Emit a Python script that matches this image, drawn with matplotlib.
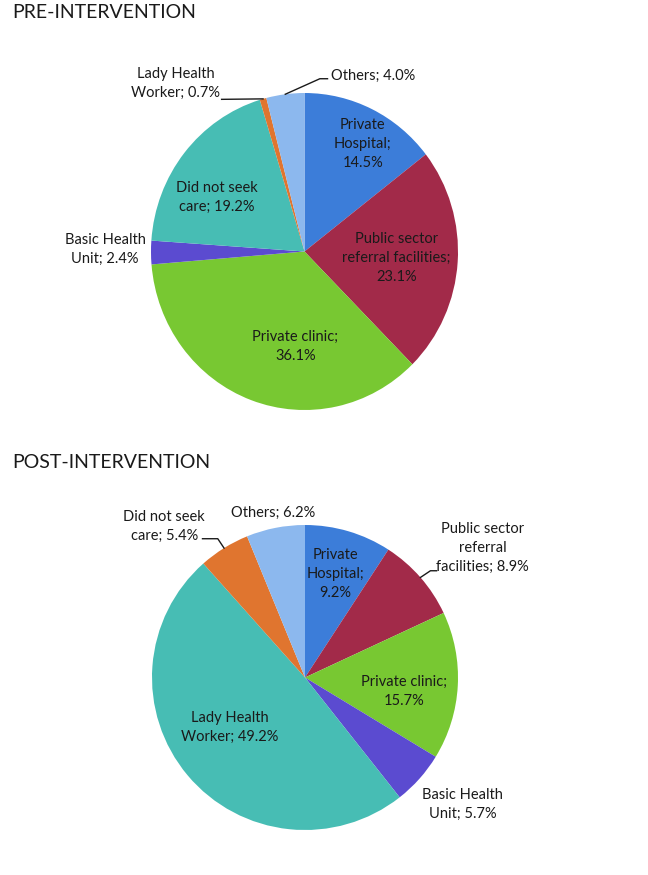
import numpy as np
import matplotlib
matplotlib.use("Agg")
from matplotlib import pyplot as plt

plt.rcParams['font.family'] = ['Lato', 'DejaVu Sans']

# data: slices in clockwise order from 12 o'clock
pre_labels = ['Private Hospital', 'Public sector referral facilities', 'Private clinic',
              'Basic Health Unit', 'Did not seek care', 'Lady Health Worker', 'Others']
pre_values = [14.5, 23.1, 36.1, 2.4, 19.2, 0.7, 4.0]

post_labels = ['Private Hospital', 'Public sector referral facilities', 'Private clinic',
               'Basic Health Unit', 'Lady Health Worker', 'Did not seek care', 'Others']
post_values = [9.2, 8.9, 15.7, 5.7, 49.2, 5.4, 6.2]

colors = ["#3C7DD9", "#A22A49", "#78C832", "#5B4BD0", "#47BDB4", "#E0752F", "#8CB8EE"]

# label text (line breaks as in the original) and where it sits, in pie-radius units
pre_text = ["Private\nHospital;\n{:.1f}%", "Public sector\nreferral facilities;\n{:.1f}%",
            "Private clinic;\n{:.1f}%", "Basic Health\nUnit; {:.1f}%", "Did not seek\ncare; {:.1f}%",
            "Lady Health\nWorker; {:.1f}%", "Others; {:.1f}%"]
pre_pos = [(0.38, 0.68), (0.60, -0.04), (-0.06, -0.60), (-1.30, 0.01), (-0.57, 0.34),
           (-0.84, 1.06), (0.45, 1.11)]
# leader lines: slice index -> points leading to the slice edge
pre_lead = {5: [(-0.54, 0.96)], 6: [(0.15, 1.09), (0.10, 1.09)]}

post_text = ["Private\nHospital;\n{:.1f}%", "Public sector\nreferral\nfacilities; {:.1f}%",
             "Private clinic;\n{:.1f}%", "Basic Health\nUnit; {:.1f}%", "Lady Health\nWorker; {:.1f}%",
             "Did not seek\ncare; {:.1f}%", "Others; {:.1f}%"]
post_pos = [(0.20, 0.68), (1.16, 0.85), (0.65, -0.09), (1.03, -0.83), (-0.49, -0.33),
            (-0.92, 0.99), (-0.21, 1.08)]
post_lead = {1: [(0.86, 0.70), (0.82, 0.70)], 5: [(-0.67, 0.91), (-0.57, 0.91)]}

W, H = 648, 875
fig = plt.figure(figsize=(W / 100, H / 100), dpi=100)


def draw_pie(box, values, texts, pos, lead):
    x0, y0, x1, y1 = box
    ax = fig.add_axes([x0 / W, 1 - y1 / H, (x1 - x0) / W, (y1 - y0) / H])
    wedges, _ = ax.pie(values, colors=colors, startangle=90, counterclock=False,
                       wedgeprops={'linewidth': 0})
    ax.set_aspect('auto')
    ax.set_xlim(-1, 1)
    ax.set_ylim(-1, 1)
    ax.axis('off')
    for i, w in enumerate(wedges):
        ax.text(pos[i][0], pos[i][1], texts[i].format(values[i]), ha='center', va='center',
                fontsize=10.5, color='#1a1a1a', linespacing=1.45)
        if i in lead:
            mid = np.deg2rad((w.theta1 + w.theta2) / 2)
            pts = lead[i] + [(np.cos(mid), np.sin(mid))]
            xs, ys = zip(*pts)
            ax.plot(xs, ys, color='#1a1a1a', lw=1, clip_on=False)
    return ax


draw_pie((151, 93, 458, 410), pre_values, pre_text, pre_pos, pre_lead)
draw_pie((152, 525, 458, 830), post_values, post_text, post_pos, post_lead)

fig.text(12 / W, 1 - 13 / H, "PRE-INTERVENTION", fontsize=14, color='#1a1a1a', va='center', ha='left')
fig.text(12 / W, 1 - 463 / H, "POST-INTERVENTION", fontsize=14, color='#1a1a1a', va='center', ha='left')

fig.savefig("out.png", dpi=100, facecolor='white')
